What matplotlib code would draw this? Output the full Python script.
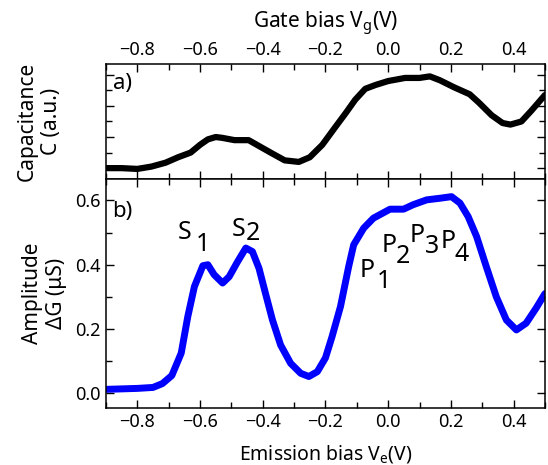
import numpy as np
import matplotlib
matplotlib.use("Agg")
import matplotlib.pyplot as plt
from matplotlib.ticker import MultipleLocator

plt.rcParams['font.family'] = ['Noto Sans', 'DejaVu Sans']
plt.rcParams['mathtext.fontset'] = 'custom'
plt.rcParams['mathtext.rm'] = 'Noto Sans'
plt.rcParams['mathtext.it'] = 'Noto Sans'

# capacitance (a.u.) vs gate bias
vg = [-0.9, -0.85, -0.8, -0.755, -0.71, -0.67, -0.63, -0.6, -0.575, -0.55, -0.53,
      -0.49, -0.445, -0.41, -0.375, -0.33, -0.285, -0.25, -0.21, -0.17,
      -0.135, -0.105, -0.073, -0.04, 0.0, 0.054, 0.10, 0.133, 0.165, 0.21,
      0.26, 0.29, 0.33, 0.365, 0.39, 0.425, 0.457, 0.5]
cap = [0.0, 0.0, -0.05, 0.1, 0.35, 0.7, 1.0, 1.5, 1.85, 2.0, 1.95,
       1.8, 1.8, 1.4, 1.0, 0.5, 0.4, 0.7, 1.5, 2.6,
       3.55, 4.4, 5.1, 5.35, 5.6, 5.8, 5.8, 5.9, 5.65, 5.2,
       4.75, 4.2, 3.4, 2.9, 2.8, 3.0, 3.7, 4.7]

# amplitude dG (uS) vs emission bias
ve = [-0.9, -0.8, -0.75, -0.72, -0.69, -0.66, -0.639, -0.618, -0.591, -0.575,
      -0.555, -0.528, -0.507, -0.48, -0.454, -0.433, -0.412, -0.39, -0.369,
      -0.343, -0.311, -0.279, -0.253, -0.226, -0.2, -0.179, -0.152, -0.126,
      -0.11, -0.078, -0.047, 0.006, 0.049, 0.08, 0.123, 0.165, 0.202, 0.229,
      0.255, 0.282, 0.313, 0.345, 0.377, 0.409, 0.44, 0.472, 0.5]
dg = [0.012, 0.015, 0.018, 0.03, 0.055, 0.125, 0.239, 0.332, 0.397, 0.40,
      0.369, 0.343, 0.363, 0.41, 0.452, 0.441, 0.389, 0.306, 0.228,
      0.15, 0.093, 0.062, 0.052, 0.067, 0.11, 0.176, 0.27, 0.394,
      0.462, 0.514, 0.545, 0.573, 0.573, 0.587, 0.602, 0.607, 0.612, 0.592,
      0.55, 0.488, 0.394, 0.30, 0.228, 0.197, 0.218, 0.265, 0.31]

fig = plt.figure(figsize=(5.48, 4.65), dpi=100)
ax1 = fig.add_axes([0.1934, 0.615, 0.801, 0.2475])
ax2 = fig.add_axes([0.1934, 0.1226, 0.801, 0.4925])

for ax in (ax1, ax2):
    ax.set_xlim(-0.9, 0.5)
    ax.xaxis.set_major_locator(MultipleLocator(0.2))
    ax.xaxis.set_minor_locator(MultipleLocator(0.1))
    ax.tick_params(which='both', direction='in', top=True, right=True,
                   labelsize=13, width=1)
    ax.tick_params(which='major', length=6)
    ax.tick_params(which='minor', length=4)
    for s in ax.spines.values():
        s.set_linewidth(1.1)

ax1.plot(vg, cap, color='black', lw=4.5, solid_capstyle='round',
         solid_joinstyle='round')
ax1.set_ylim(-0.7, 6.7)
ax1.yaxis.set_major_locator(MultipleLocator(2))
ax1.yaxis.set_minor_locator(MultipleLocator(1))
ax1.tick_params(labelleft=False, labelbottom=False, labeltop=True)
ax1.xaxis.set_label_position('top')
ax1.set_xlabel('Gate bias V$_\\mathrm{g}$(V)', fontsize=15, labelpad=9)
ax1.set_ylabel('Capacitance\nC (a.u.)', fontsize=15, labelpad=28)
ax1.text(0.015, 0.83, 'a)', transform=ax1.transAxes, fontsize=16, va='center')

ax2.plot(ve, dg, color='#0000ff', lw=5, solid_capstyle='round',
         solid_joinstyle='round')
ax2.set_ylim(-0.046, 0.667)
ax2.yaxis.set_major_locator(MultipleLocator(0.2))
ax2.yaxis.set_minor_locator(MultipleLocator(0.1))
ax2.yaxis.set_major_formatter(matplotlib.ticker.FormatStrFormatter('%.1f'))
ax2.set_xlabel('Emission bias V$_\\mathrm{e}$(V)', fontsize=14, labelpad=9)
ax2.set_ylabel('Amplitude\n\u0394G (\u03bcS)', fontsize=15, labelpad=6)
ax2.text(0.015, 0.86, 'b)', transform=ax2.transAxes, fontsize=16, va='center')

# peak labels: (main, subscript, x, y, sub x, sub y)
labels = [('S', '1', -0.67, 0.48, -0.614, 0.443),
          ('S', '2', -0.5, 0.49, -0.455, 0.477),
          ('P', '1', -0.09, 0.362, -0.037, 0.328),
          ('P', '2', -0.022, 0.44, 0.025, 0.406),
          ('P', '3', 0.068, 0.47, 0.118, 0.435),
          ('P', '4', 0.168, 0.453, 0.213, 0.412)]
for m, s, x, y, xs, ys in labels:
    ax2.text(x, y, m, fontsize=18, ha='left', va='baseline')
    ax2.text(xs, ys, s, fontsize=18, ha='left', va='baseline')

fig.savefig('out.png', dpi=100)
